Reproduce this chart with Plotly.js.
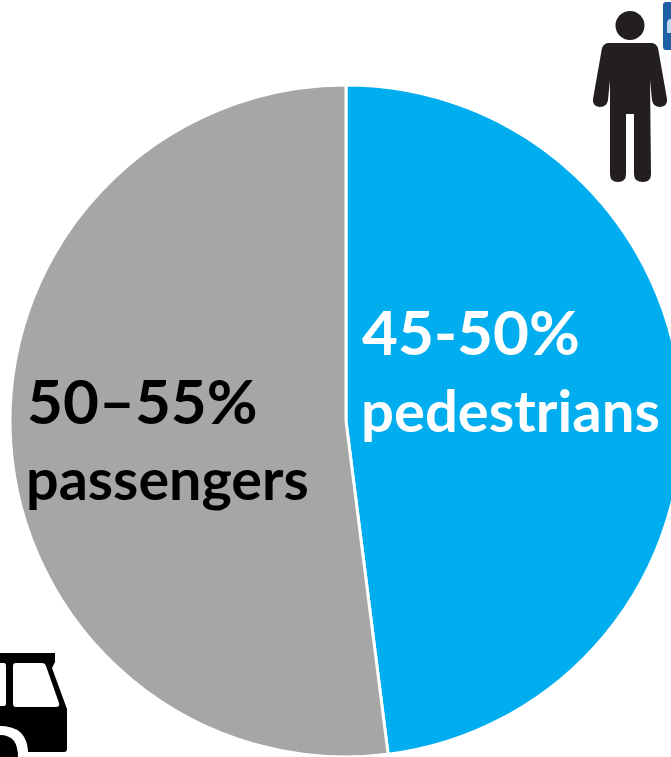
<!DOCTYPE html>
<html>
<head>
<meta charset="utf-8">
<script src="https://cdn.plot.ly/plotly-3.0.1.min.js"></script>
<style>
html,body{margin:0;padding:0;background:#fff;overflow:hidden;width:671px;height:757px}
#wrap{width:671px;height:757px;overflow:hidden}
</style>
</head>
<body>
<div id="wrap"><div id="chart"></div></div>
<script>
// Share of road users, in percent
const categories = ["pedestrians", "passengers"];
const shares = [48, 52];
const sliceColors = ["#00AEEF", "#A6A6A6"];
const rangeLabels = ["45-50%", "50–55%"];

// The figure runs a little past the window so the pie is cut off on the right
const W = 683, H = 757;
const px = x => x / W;
const py = y => 1 - y / H;

// Turns a path written in figure pixels (M/L/Q/C only) into paper coordinates
function paperPath(d) {
  return d.replace(/(-?[\d.]+),(-?[\d.]+)/g, (m, x, y) => px(+x) + "," + py(+y));
}
function solid(d, color) {
  return {type: "path", xref: "paper", yref: "paper", path: paperPath(d),
          fillcolor: color, line: {width: 0}, layer: "above"};
}
function disc(cx, cy, r, color) {
  return {type: "circle", xref: "paper", yref: "paper",
          x0: px(cx - r), x1: px(cx + r), y0: py(cy + r), y1: py(cy - r),
          fillcolor: color, line: {width: 0}, layer: "above"};
}

const ink = "#231F20";
const shapes = [
  // Phone held by the walking figure
  solid("M666,2 L671,2 L671,50 L666,50 Q663,50 663,47 L663,5 Q663,2 666,2 Z", "#1F5FA8"),
  solid("M667,23 Q667,19 671,19 L671,33 L667,33 Z", "#BFD6EC"),
  // Pedestrian
  disc(630, 25.5, 14.5, ink),
  solid("M609,43 L651,43 Q656,43 658,48 L667,99 Q668,106 660,107 Q653,107 652,100 L650,80 " +
        "L651,174 Q651,182 643,182 Q634,182 634,174 L634,114 L626,114 L626,174 Q626,182 618,182 " +
        "Q610,182 610,174 L610,80 L608,100 Q607,107 600,107 Q592,106 593,99 L602,48 Q604,43 609,43 Z", ink),
  // Bus, cropped by the corner of the figure
  solid("M0,653 L55,653 L55,662 L52,668 L67,709 L67,749 Q67,752 64,752 L28,752 " +
        "Q27,726 0,726 Z", "#000000"),
  solid("M0,662 L52,662 L52,668 L0,668 Z", "#000000"),
  solid("M0,726 Q28,727 28,757 L0,757 Z", "#FFFFFF"),
  solid("M0,735 Q18,735 18,757 L0,757 Z", "#000000"),
  solid("M0,663 L0,706 L4,706 Q6,706 6,703 L6,666 Q6,663 4,663 Z", "#FFFFFF"),
  solid("M16,663 L42,663 Q45,663 46,666 L59,703 Q60,707 56,707 L16,707 Q13,707 13,704 L13,666 Q13,663 16,663 Z", "#FFFFFF")
];

function label(text, x, y, size, color) {
  return {text: text, xref: "paper", yref: "paper", x: px(x), y: py(y),
          xanchor: "left", yanchor: "middle", showarrow: false, borderpad: 0,
          font: {family: "Lato, 'Open Sans', sans-serif", size: size, color: color}};
}

const annotations = [
  label("<b>" + rangeLabels[0] + "</b>", 361, 331, 62, "#FFFFFF"),
  label("<b>" + categories[0] + "</b>", 360, 409, 58, "#FFFFFF"),
  label("<b>" + rangeLabels[1] + "</b>", 26, 400, 62, "#000000"),
  label("<b>" + categories[1] + "</b>", 25, 477, 57.5, "#000000")
];

Plotly.newPlot("chart", [{
  type: "pie",
  labels: categories,
  values: shares,
  sort: false,
  direction: "clockwise",
  rotation: 0,
  textinfo: "none",
  hoverinfo: "label+percent",
  marker: {colors: sliceColors, line: {color: "#FFFFFF", width: 3}},
  domain: {x: [10 / W, 682 / W], y: [0, 672 / H]}
}], {
  width: W,
  height: H,
  margin: {l: 0, r: 0, t: 0, b: 0},
  paper_bgcolor: "#FFFFFF",
  showlegend: false,
  shapes: shapes,
  annotations: annotations
}, {displayModeBar: false, responsive: false});
</script>
</body>
</html>
